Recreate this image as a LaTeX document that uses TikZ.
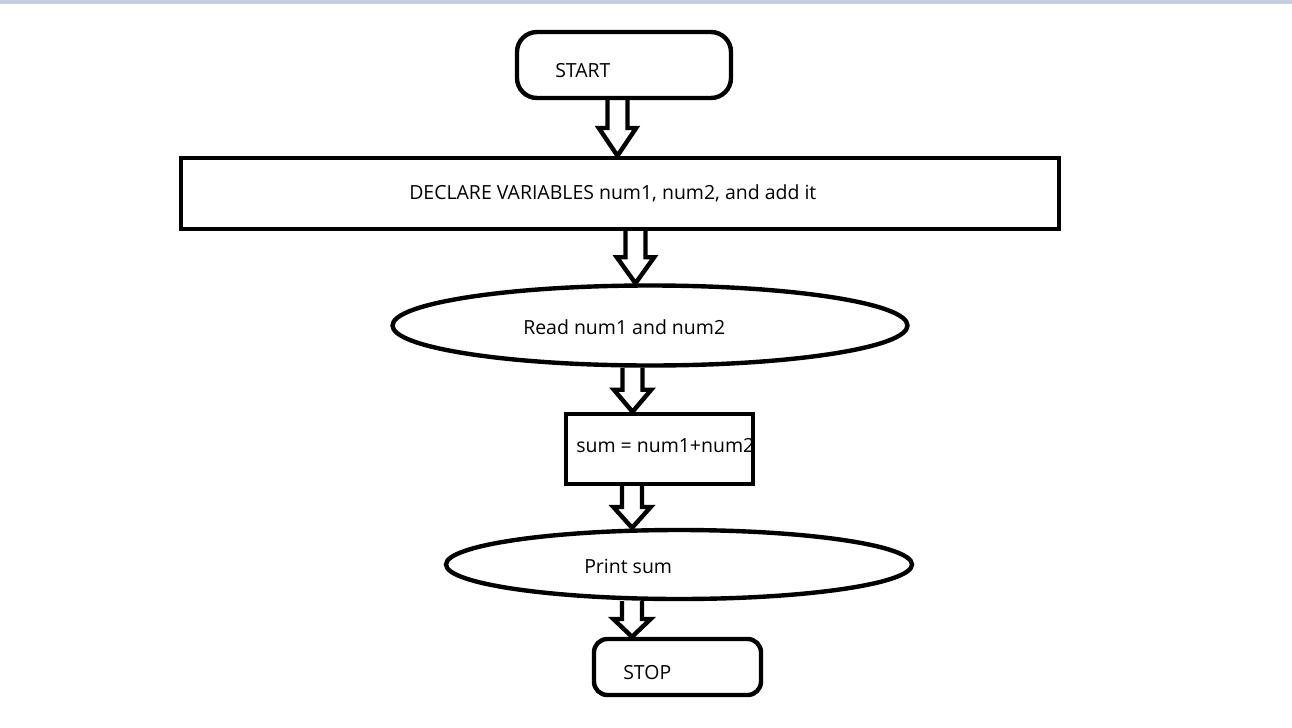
\documentclass[tikz,border=0pt]{standalone}
\usepackage{fontspec}
\setmainfont{Open Sans}
\usetikzlibrary{shapes.geometric,calc}

\definecolor{topbar}{RGB}{198,207,224}

\tikzset{
  procbox/.style={draw, rectangle, line width=3.3pt, inner sep=0pt},
  termbox/.style={procbox, rounded corners=#1},
  oval/.style={draw, ellipse, line width=3.3pt, inner sep=0pt},
  txt/.style={anchor=west, inner sep=0pt, font=\fontsize{14.6}{17}\selectfont},
  blockarrow/.style={line width=3.3pt,
    to path={let \p1=(\tikztostart), \p2=(\tikztotarget), \p3=($(\tikztostart)!0.5!(\tikztotarget)$) in
      (\x1-7.5pt,\y1) -- (\x1-7.5pt,\y3) -- (\x1-14pt,\y3) -- (\x1,\y2)
      -- (\x1+14pt,\y3) -- (\x1+7.5pt,\y3) -- (\x1+7.5pt,\y1)}}
}

\begin{document}
\begin{tikzpicture}[x=0.75pt,y=0.75pt,yscale=-1,xscale=1]
      \path[use as bounding box] (0,0) rectangle (1292,728);
      %Shape: Top bar
      \fill[topbar] (0,0) rectangle (1292,4);

      %Shape: Rounded Rectangle
      \node[termbox=15pt, minimum width=160.5pt, minimum height=49.5pt] (start) at (624,65) {};
      %Shape: Rectangle
      \node[procbox, minimum width=658.5pt, minimum height=53.25pt] (declare) at (620,193.5) {};
      %Shape: Ellipse
      \node[oval, minimum width=386.25pt, minimum height=60pt] (read) at (650,325.5) {};
      %Shape: Rectangle
      \node[procbox, minimum width=140.25pt, minimum height=52.5pt] (sum) at (659.5,449) {};
      %Shape: Ellipse
      \node[oval, minimum width=349.5pt, minimum height=51.75pt] (print) at (679,564.5) {};
      %Shape: Rounded Rectangle
      \node[termbox=10pt, minimum width=125.25pt, minimum height=42pt] (stop) at (677.5,667) {};

      % Text Node
      \node[txt] (startText) at (555,71) {START};
      % Text Node
      \node[txt] (declareText) at (409,193) {DECLARE VARIABLES num1, num2, and add it};
      % Text Node
      \node[txt] (readText) at (523,327) {Read num1 and num2};
      % Text Node
      \node[txt] (sumText) at (576,446) {sum = num1+num2};
      % Text Node
      \node[txt] (printText) at (584,566) {Print sum};
      % Text Node
      \node[txt] (stopText) at (623,673) {STOP};

      %Shape: Block arrows
      \draw[blockarrow] ([xshift=-4.9pt]start.south) to (declare.north);
      \draw[blockarrow] ([xshift=11.6pt]declare.south) to (read.north);
      \draw[blockarrow] ([xshift=-13.1pt]read.south) to (sum.north);
      \draw[blockarrow] ([xshift=-20.6pt]sum.south) to (print.north);
      \draw[blockarrow] ([xshift=-35.25pt]print.south) to (stop.north);
\end{tikzpicture}
\end{document}
